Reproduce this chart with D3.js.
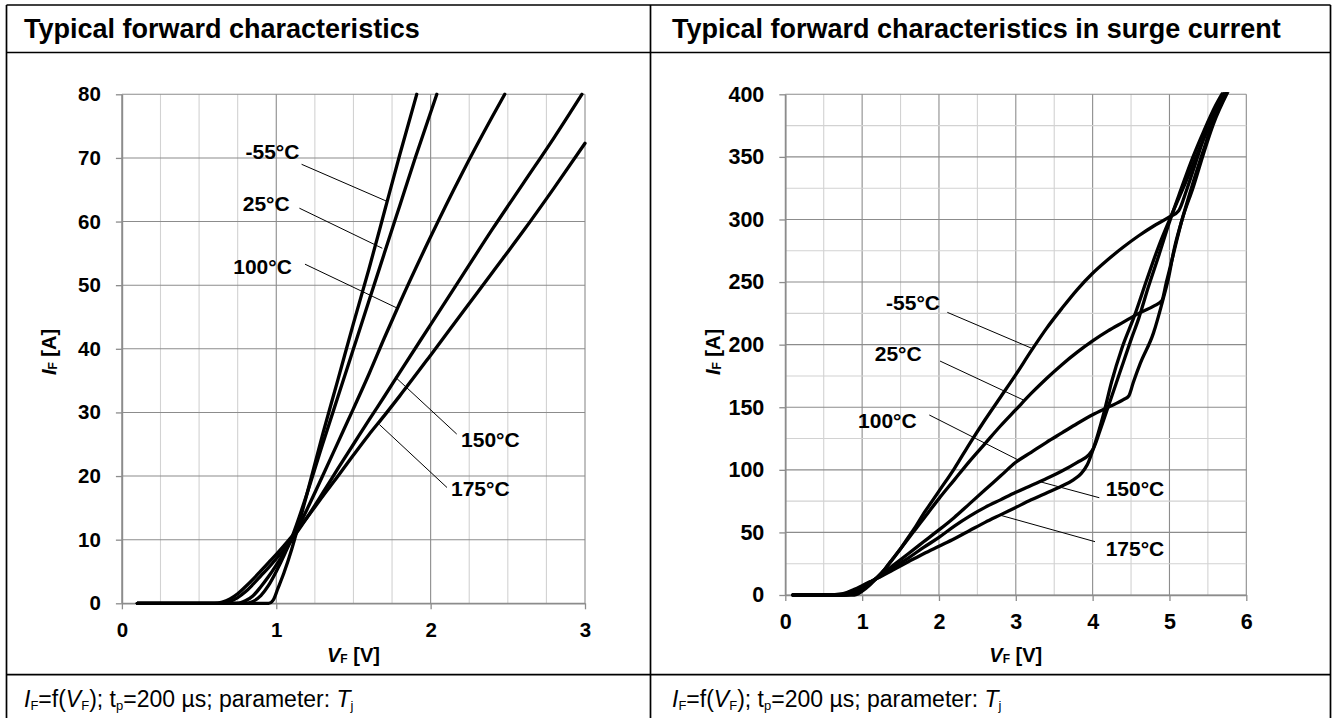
<!DOCTYPE html>
<html><head><meta charset="utf-8">
<script src="https://cdn.jsdelivr.net/npm/d3@7"></script>
<style>
html,body{margin:0;padding:0;background:#fff;}
svg{display:block;font-family:"Liberation Sans",Arial,sans-serif;}
</style></head>
<body>
<svg id="c" width="1333" height="718"></svg>
<script>
// ---------------- DATA ----------------
const titles = ["Typical forward characteristics", "Typical forward characteristics in surge current"];
const seriesNames = ["-55°C", "25°C", "100°C", "150°C", "175°C"];

// Left chart: forward characteristics [V, A]
const leftXTicks = [0, 1, 2, 3];
const leftYTicks = [0, 10, 20, 30, 40, 50, 60, 70, 80];
const left_m55 = [[0.1,0],[0.95,0],[0.98,0.5],[1.01,2.3],[1.05,4.8],[1.1,8.5],[1.15,12.8],[1.2,17.3],[1.3,26.5],[1.4,35.2],[1.5,44],[1.6,52.5],[1.7,61.5],[1.8,70.5],[1.91,80]];
const left_25  = [[0.1,0],[0.8,0],[0.85,0.3],[0.9,1.2],[0.95,2.8],[1.0,5.0],[1.05,7.5],[1.1,10.3],[1.2,17.3],[1.3,25],[1.4,32.5],[1.5,40],[1.6,47.5],[1.7,55],[1.8,62.5],[1.9,70],[2.04,80]];
const left_100 = [[0.1,0],[0.75,0],[0.8,0.4],[0.85,1.2],[0.9,2.6],[0.95,4.2],[1.0,6],[1.1,10],[1.2,14.8],[1.3,20],[1.4,25.3],[1.5,30.6],[1.6,36],[1.7,41.7],[1.8,47.2],[2.0,57.6],[2.2,67.4],[2.4,76.5],[2.48,80]];
const left_150 = [[0.1,0],[0.65,0],[0.7,0.3],[0.75,0.9],[0.8,1.8],[0.85,3],[0.9,4.3],[0.95,5.6],[1.0,7],[1.1,10],[1.2,13.5],[1.3,17.3],[1.4,21.2],[1.5,25],[1.6,28.8],[1.7,32.5],[1.8,36.3],[2.0,43.8],[2.2,51.3],[2.4,58.8],[2.6,66],[2.8,73.2],[2.98,80]];
const left_175 = [[0.1,0],[0.6,0],[0.65,0.2],[0.7,0.7],[0.75,1.5],[0.8,2.6],[0.85,3.8],[0.9,5.1],[0.95,6.4],[1.0,7.7],[1.1,10.5],[1.2,13.5],[1.3,16.8],[1.4,20],[1.5,23.3],[1.6,26.5],[1.7,29.5],[1.8,32.6],[2.0,39],[2.2,45.5],[2.4,52],[2.6,58.5],[2.8,65.3],[3.0,72.3]];

// Right chart: surge current [V, A]
const rightXTicks = [0, 1, 2, 3, 4, 5, 6];
const rightYTicks = [0, 50, 100, 150, 200, 250, 300, 350, 400];
const right_m55 = [[0.1,0],[0.9,0],[0.95,1],[1.0,3],[1.1,8],[1.2,14],[1.3,21],[1.4,29],[1.5,37],[1.6,46],[1.7,55],[1.8,65],[1.9,74],[2.0,83],[2.2,101],[2.4,121],[2.6,140],[2.8,158],[3.0,176],[3.2,195],[3.4,213],[3.6,229],[3.8,244],[4.0,257],[4.2,268],[4.4,278],[4.6,287],[4.8,295],[5.0,302],[5.12,307],[5.22,323],[5.35,347],[5.48,371],[5.61,390],[5.74,403]];
const right_25  = [[0.1,0],[0.8,0],[0.85,0.5],[0.9,1.5],[1.0,4.5],[1.1,9],[1.2,14.5],[1.3,21],[1.4,29],[1.5,37],[1.6,45],[1.7,53],[1.8,61],[2.0,77],[2.2,92],[2.4,107],[2.6,121],[2.8,135],[3.0,148],[3.2,161],[3.4,173],[3.6,184],[3.8,194],[4.0,203],[4.2,211],[4.4,218],[4.6,225],[4.8,231],[4.9,235],[4.96,250],[5.05,272],[5.16,299],[5.31,326],[5.44,352],[5.57,376],[5.76,402]];
const right_100 = [[0.1,0],[0.75,0],[0.8,0.5],[0.9,2.5],[1.0,6],[1.1,10],[1.2,14],[1.4,23.5],[1.6,33],[1.8,42.5],[2.0,52],[2.2,62],[2.4,73],[2.6,84],[2.8,95],[3.0,106],[3.2,114],[3.4,122],[3.6,129.5],[3.8,137],[4.0,144],[4.2,150],[4.4,156],[4.47,159],[4.53,170],[4.62,185],[4.79,209],[4.92,237],[4.99,254],[5.06,276],[5.16,299],[5.29,326],[5.43,353],[5.56,377],[5.76,403]];
const right_150 = [[0.1,0],[0.7,0],[0.75,0.5],[0.8,1.5],[0.9,3.8],[1.0,6.8],[1.1,10],[1.2,13.5],[1.4,21.5],[1.6,29.5],[1.8,38],[2.0,46],[2.2,55],[2.4,63],[2.6,70],[2.8,76],[3.0,82],[3.2,87.5],[3.4,93],[3.6,99],[3.8,106],[3.95,112],[4.01,117],[4.1,132],[4.2,150],[4.3,168],[4.4,186],[4.5,204],[4.6,221],[4.72,245],[4.86,271],[5.0,298],[5.15,324],[5.3,349],[5.45,371],[5.6,391],[5.72,404]];
const right_175 = [[0.1,0],[0.6,0],[0.7,0.6],[0.8,2],[0.9,4.5],[1.0,7.5],[1.1,10.5],[1.2,13.5],[1.4,20],[1.6,26.5],[1.8,33],[2.0,39],[2.2,45],[2.4,51.5],[2.6,58],[2.8,64],[3.0,70],[3.2,76],[3.4,81.5],[3.6,87],[3.75,92],[3.85,97],[3.93,104],[4.01,117],[4.14,144],[4.25,171],[4.38,197],[4.55,224],[4.70,251],[4.85,277],[5.03,304],[5.22,331],[5.40,358],[5.53,376],[5.74,401]];

// Annotations (data units): label anchor, side, pointer start -> pointer end
const leftNotes = [
  {t:"-55°C", lx:1.150, ly:69.8, a:"end",   p:[[1.164,69.0],[1.715,63.2]]},
  {t:"25°C",  lx:1.087, ly:61.6, a:"end",   p:[[1.150,62.1],[1.687,55.8]]},
  {t:"100°C", lx:1.101, ly:51.8, a:"end",   p:[[1.186,53.3],[1.783,46.4]]},
  {t:"150°C", lx:2.197, ly:24.6, a:"start", p:[[2.169,26.6],[1.769,35.6]]},
  {t:"175°C", lx:2.132, ly:16.9, a:"start", p:[[2.106,18.2],[1.668,28.1]]}
];
const rightNotes = [
  {t:"-55°C", lx:2.014, ly:227.3, a:"end",   p:[[2.109,225.8],[3.207,197.1]]},
  {t:"25°C",  lx:1.775, ly:187.3, a:"end",   p:[[2.014,186.9],[3.098,155.8]]},
  {t:"100°C", lx:1.710, ly:133.8, a:"end",   p:[[1.874,143.8],[3.033,107.8]]},
  {t:"150°C", lx:4.170, ly:79.2,  a:"start", p:[[4.087,77.7],[3.315,90.5]]},
  {t:"175°C", lx:4.170, ly:31.3,  a:"start", p:[[4.031,42.6],[2.788,63.9]]}
];

// ---------------- DRAW ----------------
const svg = d3.select("#c");
const FONT = '"Liberation Sans", Arial, sans-serif';

// table frame
const frame = svg.append("g").attr("stroke","#000").attr("stroke-width",1.7).attr("fill","none");
[[6.5,5,1330.5,5],[6.5,52.5,1330.5,52.5],[6.5,674.7,1330.5,674.7],
 [6.5,5,6.5,718],[650.5,5,650.5,718],[1330.5,5,1330.5,718]].forEach(l=>{
  frame.append("line").attr("x1",l[0]).attr("y1",l[1]).attr("x2",l[2]).attr("y2",l[3]);
});

// titles
[[24,titles[0]],[672,titles[1]]].forEach(([x,t])=>{
  svg.append("text").attr("x",x).attr("y",37.5).attr("font-size",27).attr("font-weight","bold")
    .attr("fill","#000").text(t);
});

// footers
[24,672].forEach(x=>{
  const t = svg.append("text").attr("x",x).attr("y",706.5).attr("font-size",23).attr("fill","#000");
  t.append("tspan").attr("font-style","italic").text("I");
  t.append("tspan").attr("font-size",13).attr("dy",3).text("F");
  t.append("tspan").attr("dy",-3).text("=f(");
  t.append("tspan").attr("font-style","italic").text("V");
  t.append("tspan").attr("font-size",13).attr("dy",3).text("F");
  t.append("tspan").attr("dy",-3).text("); t");
  t.append("tspan").attr("font-size",13).attr("dy",3).text("p");
  t.append("tspan").attr("dy",-3).text("=200 µs; parameter: ");
  t.append("tspan").attr("font-style","italic").text("T");
  t.append("tspan").attr("font-size",13).attr("dy",3).text("j");
});

function drawChart(cfg){
  const x = d3.scaleLinear().domain(cfg.xd).range(cfg.xr);
  const y = d3.scaleLinear().domain(cfg.yd).range(cfg.yr);
  const g = svg.append("g");

  // grid
  const minorC = "#d2d2d2", majorC = "#8c8c8c";
  d3.range(cfg.xd[0], cfg.xd[1]+1e-9, cfg.xMinor).forEach(v=>{
    const major = Math.abs(v - Math.round(v/cfg.xMajor)*cfg.xMajor) < 1e-6;
    g.append("line").attr("x1",x(v)).attr("x2",x(v)).attr("y1",y(cfg.yd[0])).attr("y2",y(cfg.yd[1]))
      .attr("stroke", major?majorC:minorC).attr("stroke-width",1.1);
  });
  d3.range(cfg.yd[0], cfg.yd[1]+1e-9, cfg.yMinor).forEach(v=>{
    const major = Math.abs(v - Math.round(v/cfg.yMajor)*cfg.yMajor) < 1e-6;
    g.append("line").attr("x1",x(cfg.xd[0])).attr("x2",x(cfg.xd[1])).attr("y1",y(v)).attr("y2",y(v))
      .attr("stroke", major?majorC:minorC).attr("stroke-width",1.1);
  });

  // axes
  const ax = g.append("g").attr("transform",`translate(0,${y(cfg.yd[0])})`)
    .call(d3.axisBottom(x).tickValues(cfg.xt).tickFormat(d3.format("d")).tickSize(6).tickSizeOuter(0).tickPadding(13));
  const ay = g.append("g").attr("transform",`translate(${x(cfg.xd[0])},0)`)
    .call(d3.axisLeft(y).tickValues(cfg.yt).tickFormat(d3.format("d")).tickSize(6).tickSizeOuter(0).tickPadding(15));
  [ax,ay].forEach(a=>{
    a.selectAll("path.domain").attr("stroke",majorC).attr("stroke-width",1.6);
    a.selectAll(".tick line").attr("stroke",majorC).attr("stroke-width",1.3);
    a.selectAll(".tick text").attr("font-family",FONT).attr("font-size",cfg.tickFont).attr("font-weight","bold").attr("fill","#000");
  });

  // clip
  const cid = "clip"+cfg.id;
  svg.append("clipPath").attr("id",cid).append("rect")
    .attr("x",x(cfg.xd[0])).attr("y",y(cfg.yd[1])-2)
    .attr("width",x(cfg.xd[1])-x(cfg.xd[0])+3).attr("height",y(cfg.yd[0])-y(cfg.yd[1])+4);

  const line = d3.line().x(d=>x(d[0])).y(d=>y(d[1])).curve(d3.curveMonotoneX);
  const cg = g.append("g").attr("clip-path",`url(#${cid})`);
  cfg.series.forEach(s=>{
    cg.append("path").attr("d",line(s)).attr("fill","none").attr("stroke","#000")
      .attr("stroke-width",3.3).attr("stroke-linejoin","round").attr("stroke-linecap","round");
  });

  // annotations
  cfg.notes.forEach(n=>{
    g.append("line").attr("x1",x(n.p[0][0])).attr("y1",y(n.p[0][1]))
      .attr("x2",x(n.p[1][0])).attr("y2",y(n.p[1][1])).attr("stroke","#000").attr("stroke-width",1);
    g.append("text").attr("x",x(n.lx)).attr("y",y(n.ly)).attr("text-anchor",n.a)
      .attr("font-size",21).attr("font-weight","bold").attr("fill","#000").text(n.t);
  });

  // axis titles
  const xm = (cfg.xr[0]+cfg.xr[1])/2;
  const tx = g.append("text").attr("x",xm).attr("y",661.5).attr("text-anchor","middle")
    .attr("font-size",20).attr("font-weight","bold").attr("fill","#000");
  tx.append("tspan").attr("font-style","italic").text("V");
  tx.append("tspan").attr("font-size",12).attr("dy",1).text("F");
  tx.append("tspan").attr("dy",-1).text(" [V]");

  const ty = g.append("text").attr("transform",`translate(${cfg.yTitleX},352) rotate(-90)`)
    .attr("text-anchor","middle").attr("font-size",20).attr("font-weight","bold").attr("fill","#000");
  ty.append("tspan").attr("font-style","italic").text("I");
  ty.append("tspan").attr("font-size",12).attr("dy",1).text("F");
  ty.append("tspan").attr("dy",-1).text(" [A]");
}

drawChart({id:"L", xd:[0,3], yd:[0,80], xr:[121.9,585], yr:[603.3,94.3], tickFont:20.5,
  xMinor:0.25, xMajor:1, yMinor:10, yMajor:10, xt:leftXTicks, yt:leftYTicks,
  series:[left_m55,left_25,left_100,left_150,left_175], notes:leftNotes, yTitleX:56});
drawChart({id:"R", xd:[0,6], yd:[0,400], xr:[785.3,1246.3], yr:[595,94.3], tickFont:21.5,
  xMinor:0.5, xMajor:1, yMinor:25, yMajor:50, xt:rightXTicks, yt:rightYTicks,
  series:[right_m55,right_25,right_100,right_150,right_175], notes:rightNotes, yTitleX:720});
</script>
</body></html>
